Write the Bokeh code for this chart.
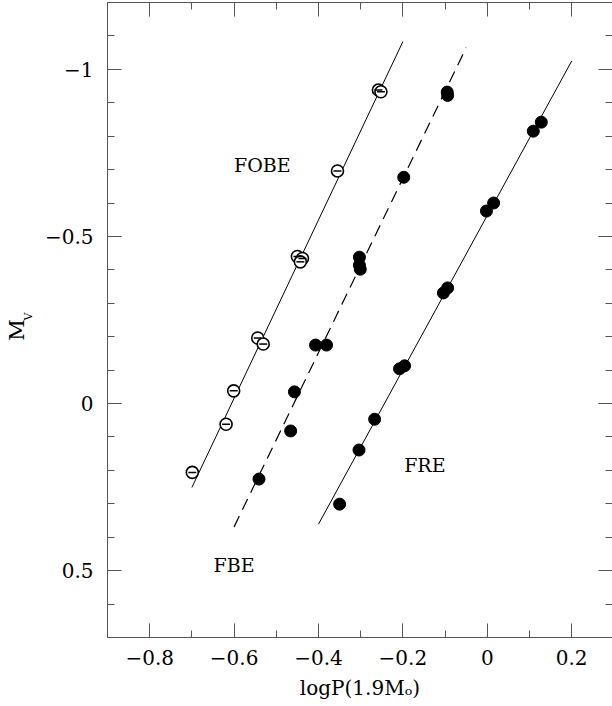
import numpy as np
from bokeh.plotting import figure
from bokeh.models import Range1d, LinearAxis, FixedTicker, ColumnDataSource
from bokeh.core.properties import value
from bokeh.embed import file_html
from bokeh.resources import INLINE

# ---- data ----
x_ticks = [-0.8, -0.6, -0.4, -0.2, 0.0, 0.2]
x_tick_labels = ["−0.8", "−0.6", "−0.4", "−0.2", "0", "0.2"]
y_ticks = [-1.0, -0.5, 0.0, 0.5]
y_tick_labels = ["−1", "−0.5", "0", "0.5"]

# FOBE (open circles)
fobe_x = [-0.699, -0.619, -0.601, -0.544, -0.531, -0.450, -0.438, -0.443, -0.355, -0.258, -0.252]
fobe_y = [0.206, 0.062, -0.038, -0.196, -0.178, -0.440, -0.434, -0.424, -0.696, -0.938, -0.933]
# FBE (filled, dashed fit)
fbe_x = [-0.541, -0.466, -0.457, -0.407, -0.381, -0.303, -0.303, -0.301, -0.198, -0.095, -0.094]
fbe_y = [0.226, 0.082, -0.035, -0.175, -0.175, -0.438, -0.414, -0.402, -0.677, -0.932, -0.922]
# FRE (filled, solid fit)
fre_x = [-0.350, -0.304, -0.267, -0.208, -0.196, -0.104, -0.094, -0.002, 0.015, 0.109, 0.128]
fre_y = [0.301, 0.139, 0.047, -0.104, -0.113, -0.331, -0.346, -0.576, -0.600, -0.815, -0.842]

# fitted relations (end points)
fobe_line_x = [-0.70, -0.20]
fobe_line_y = [0.251, -1.083]
fbe_line_x = [-0.60, -0.05]
fbe_line_y = [0.369, -1.065]
fre_line_x = [-0.40, 0.20]
fre_line_y = [0.361, -1.025]

mode_names = ["FOBE", "FBE", "FRE"]
mode_label_x = [-0.533, -0.600, -0.148]
mode_label_y = [-0.715, 0.482, 0.183]

FONT = "DejaVu Serif"
AXC = "#555555"
NB = "\u00a0"

p = figure(width=612, height=706,
           x_range=Range1d(-0.9, 0.2967), y_range=Range1d(0.7, -1.2),
           output_backend="svg", toolbar_location=None,
           min_border_left=107, min_border_top=2, min_border_bottom=69,
           min_border_right=0)
p.outline_line_color = None
p.grid.visible = False
p.background_fill_color = "white"
p.border_fill_color = "white"

p.add_layout(LinearAxis(), "above")
p.add_layout(LinearAxis(), "right")

x_minor = [round(v, 2) for v in np.arange(-0.9, 0.31, 0.1)]
y_minor = [round(v, 2) for v in np.arange(-1.2, 0.71, 0.1)]

for ax in p.xaxis:
    ax.ticker = FixedTicker(ticks=x_ticks, minor_ticks=x_minor)
for ax in p.yaxis:
    ax.ticker = FixedTicker(ticks=y_ticks, minor_ticks=y_minor)

for ax in list(p.xaxis) + list(p.yaxis):
    ax.major_tick_in = 14
    ax.major_tick_out = 0
    ax.minor_tick_in = 7
    ax.minor_tick_out = 0
    ax.axis_line_color = AXC
    ax.major_tick_line_color = AXC
    ax.minor_tick_line_color = AXC
    ax.axis_line_width = 1
    ax.major_label_text_font = FONT
    ax.major_label_text_font_size = "20px"
    ax.major_label_text_color = "black"
    ax.axis_label_text_font = FONT
    ax.axis_label_text_font_style = "normal"
    ax.axis_label_text_color = "black"

# top and right axes: ticks only
for ax in [p.above[0], p.right[0]]:
    ax.major_label_text_color = None
    ax.major_label_standoff = 0
p.right[0].axis_line_color = None

xb = p.below[0]
xb.major_label_overrides = {t: s for t, s in zip(x_ticks, x_tick_labels)}
xb.major_label_standoff = 12
xb.axis_label = "logP(1.9Mₒ)"
xb.axis_label_text_font_size = "20px"
xb.axis_label_standoff = 8

yl = p.left[0]
yl.major_label_overrides = {t: s for t, s in zip(y_ticks, y_tick_labels)}
yl.major_label_standoff = 14


def label_only_axis(text, size, standoff):
    a = LinearAxis(axis_label=text)
    a.axis_line_color = None
    a.major_tick_line_color = None
    a.minor_tick_line_color = None
    a.major_label_text_color = None
    a.major_label_standoff = 0
    a.major_tick_out = 0
    a.minor_tick_out = 0
    a.axis_label_text_font = FONT
    a.axis_label_text_font_style = "normal"
    a.axis_label_text_color = "black"
    a.axis_label_text_font_size = size
    a.axis_label_standoff = standoff
    return a


# y-axis title: M with subscript V (subscript panel sits between M and tick labels)
p.add_layout(label_only_axis(NB * 2 + "V", "11px", 7), "left")
p.add_layout(label_only_axis("M" + NB * 3, "21px", -10), "left")

# fit lines
p.line(fobe_line_x, fobe_line_y, line_color="black", line_width=1)
p.line(fbe_line_x, fbe_line_y, line_color="black", line_width=1.2, line_dash="12 7")
p.line(fre_line_x, fre_line_y, line_color="black", line_width=1)

# points
p.scatter(fobe_x, fobe_y, marker="circle", size=12, fill_color="white",
          line_color="black", line_width=1.6)
p.scatter(fobe_x, fobe_y, marker="dash", size=8, line_color="black", line_width=1.5)
p.scatter(fbe_x, fbe_y, marker="circle", size=12, fill_color="black", line_color="black")
p.scatter(fre_x, fre_y, marker="circle", size=12, fill_color="black", line_color="black")

src = ColumnDataSource(dict(x=mode_label_x, y=mode_label_y, t=mode_names))
p.text(x="x", y="y", text="t", source=src, text_font=value(FONT),
       text_font_size="19px", text_align="center", text_baseline="middle",
       text_color="black")

open("out.html", "w").write(file_html(p, INLINE))
